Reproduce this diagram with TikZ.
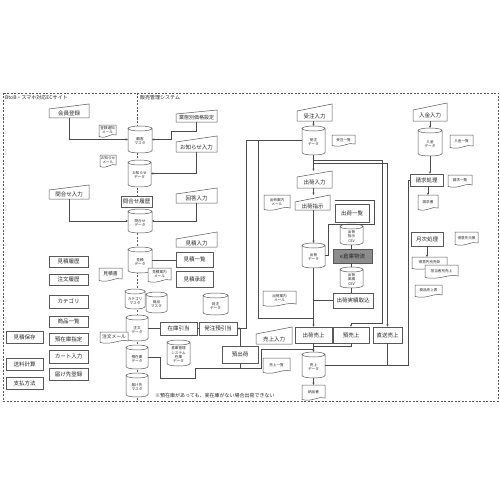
\documentclass[tikz,border=0pt]{standalone}
\usepackage{fontspec}
\setmainfont{Noto Sans CJK JP}
\usetikzlibrary{arrows.meta}
\tikzset{
  shp/.style={draw=black!65, line width=0.5pt},
  ln/.style={draw=black!70, line width=0.5pt},
  arr/.style={ln, -{Stealth[length=2.4pt,width=2.2pt]}},
  frame/.style={draw=black!65, line width=0.5pt, dash pattern=on 2pt off 1.5pt},
  bt/.style={font=\fontsize{5.5}{6}\selectfont, inner sep=0pt, align=center, text=black!85},
  st/.style={font=\fontsize{3.6}{4.3}\selectfont, inner sep=0pt, align=center, text=black!85},
  dt/.style={font=\fontsize{4.8}{5.2}\selectfont, inner sep=0pt, align=center, text=black!85},
  ph/.style={inner sep=0pt, outer sep=0pt},
  lbl/.style={font=\fontsize{5}{6}\selectfont, inner sep=0pt, text=black!85},
}
% box: [style] name x1 y1 x2 y2 text
\newcommand\mkBox[7][]{%
  \node[shp, fill=white, bt, minimum width=#5pt-#3pt, minimum height=#6pt-#4pt, #1] (#2) at ({(#3+#5)/2},{(#4+#6)/2}) {#7};}
% cylinder: name x1 y1 x2 y2 text
\newcommand\mkCyl[6]{%
  \path[fill=white] ({#2},{#3+2.5}) -- ({#2},{#5-2.5}) .. controls ({#2},{#5+0.83}) and ({#4},{#5+0.83}) .. ({#4},{#5-2.5}) -- ({#4},{#3+2.5}) -- cycle;
  \draw[shp] ({#2},{#3+2.5}) -- ({#2},{#5-2.5}) .. controls ({#2},{#5+0.83}) and ({#4},{#5+0.83}) .. ({#4},{#5-2.5}) -- ({#4},{#3+2.5});
  \draw[shp, fill=white] ({(#2+#4)/2},{#3+2.5}) ellipse [x radius={(#4-#2)/2}, y radius=2.5];
  \node[ph, minimum width=#4pt-#2pt, minimum height=#5pt-#3pt] (#1) at ({(#2+#4)/2},{(#3+#5)/2}) {};
  \node[st] (#1-t) at ({(#2+#4)/2},{(#3+#5)/2+1.8}) {#6};}
% document: [textstyle] name x1 y1 x2 y2 text
\newcommand\mkDoc[7][st]{%
  \draw[shp, fill=white] ({#3},{#4}) -- ({#5},{#4}) -- ({#5},{#6-2}) .. controls ({#5-(#5-#3)*0.3},{#6-4.5}) and ({#3+(#5-#3)*0.45},{#6+2.5}) .. ({#3},{#6-0.5}) -- cycle;
  \node[ph, minimum width=#5pt-#3pt, minimum height=#6pt-#4pt] (#2) at ({(#3+#5)/2},{(#4+#6)/2}) {};
  \node[#1] (#2-t) at ({(#3+#5)/2},{(#4+#6)/2-0.8}) {#7};}
% manual input: [textstyle] name x1 ytopright x2 y2 slant text
\newcommand\mkMI[8][bt]{%
  \draw[shp, fill=white] ({#3},{#4+#7}) -- ({#5},{#4}) -- ({#5},{#6}) -- ({#3},{#6}) -- cycle;
  \node[ph, minimum width=#5pt-#3pt, minimum height=#6pt-#4pt] (#2) at ({(#3+#5)/2},{(#4+#6)/2}) {};
  \node[#1] (#2-t) at ({(#3+#5)/2},{(#4+#7+#6)/2}) {#8};}

\begin{document}
\begin{tikzpicture}[x=1pt,y=-1pt]
\fill[white] (0,0) rectangle (500,500);
\useasboundingbox (0,0) rectangle (500,500);
\draw[frame] (3,93) rectangle (498,401);
\draw[frame] (137,93) -- (137,401);
\node[lbl, anchor=west] (lblA) at (5,98) {BtoB・スマホ対応ECサイト};
\node[lbl, anchor=west] (lblB) at (140,98) {販売管理システム};

% ---- EC site column
\mkMI{kaiin}{49}{104}{89}{118}{5}{会員登録}
\mkMI{toiin}{49}{185}{89}{199}{5}{問合せ入力}
\mkBox{mitrir}{49}{256}{88}{267}{見積履歴}
\mkBox{churir}{49}{274}{88}{285}{注文履歴}
\mkBox{categ}{49}{295}{88}{308}{カテゴリ}
\mkBox{shoichi}{49}{316}{88}{327}{商品一覧}
\mkBox{azushitei}{49}{333}{88}{345}{預在庫指定}
\mkBox{cart}{49}{350}{88}{363}{カート入力}
\mkBox{todoke}{49}{368}{88}{380}{届け先登録}
\mkBox{mithozon}{6}{331}{43}{343}{見積保存}
\mkBox{soryo}{6}{358}{43}{370}{送料計算}
\mkBox{shiharai}{6}{377}{43}{389}{支払方法}

% ---- central column
\mkCyl{kokyaku}{128}{126}{152}{153}{顧客\\マスタ}
\mkDoc{tmail}{99}{125}{116}{137}{登録通知\\メール}
\mkCyl{oshidata}{128}{160}{151}{187}{お知らせ\\データ}
\mkDoc{omail}{100}{155}{116}{167}{お知らせ\\メール}
\mkBox{toirir}{121}{196}{152}{207}{問合せ履歴}
\mkCyl{toidata}{128}{209}{152}{233}{問合せ\\データ}
\mkCyl{mitdata}{128}{247}{152}{273}{見積\\データ}
\mkDoc[dt]{mitsho}{99}{268}{122}{281}{見積書}
\mkDoc{mitmail}{148}{268}{171}{282}{見積案内\\メール}
\mkCyl{catm}{125}{289}{145}{309}{カテゴリ\\マスタ}
\mkCyl{shom}{146}{292}{167}{313}{商品\\マスタ}
\mkCyl{chudata}{126}{315}{148}{341}{注文\\データ}
\mkDoc[dt]{chumail}{100}{332}{128}{343}{注文メール}
\mkCyl{azudata}{126}{345}{148}{369}{預在庫\\データ}
\mkCyl{todm}{126}{373}{148}{397}{届け先\\マスタ}

\mkMI[bt,font=\fontsize{5}{6}\selectfont]{gyotai}{176}{110}{217}{122}{4}{業態別価格設定}
\mkMI{oshiin}{176}{136}{217}{152}{6}{お知らせ入力}
\mkMI{kaito}{176}{188}{217}{203}{6}{回答入力}
\mkMI{mitin}{176}{232}{217}{247}{7}{見積入力}
\mkBox{mitichi}{176}{252}{213}{267}{見積一覧}
\mkBox{mitshonin}{176}{271}{213}{287}{見積承認}
\mkCyl{hatdata}{203}{293}{228}{315}{発注\\データ}
\mkBox{zaiko}{160}{322}{197}{335}{在庫引当}
\mkBox{hatchuhiki}{199}{322}{237}{335}{発注預引当}
\mkCyl{soko}{167}{340}{190}{366}{倉庫管理\\システム\\在庫\\データ}
\mkBox{azushukka}{222}{346}{258}{363}{預出荷}
\node[lbl, anchor=west] (note) at (155,396) {※預在庫があっても、実在庫がない場合出荷できない};

% ---- shipping / sales column
\mkMI{juin}{297}{104}{332}{121}{7}{受注入力}
\mkCyl{judata}{302}{126}{325}{155}{受注\\データ}
\mkDoc{juichi}{332}{135}{355}{146}{受注一覧}
\mkMI{shin}{297}{171}{332}{188}{6}{出荷入力}
\mkMI{shshiji}{295}{195}{330}{210}{7}{出荷指示}
\mkDoc{amail1}{264}{195}{290}{210}{出荷案内\\メール}
\mkBox{shichi}{335}{204}{369}{222}{出荷一覧}
\mkCyl{shcsv}{340}{224}{363}{245}{出荷\\指示\\CSV}
\mkBox[fill=black!45, text=black!85]{esoko}{333}{249}{372}{263}{e倉庫物流}
\mkCyl{jicsv}{340}{267}{363}{288}{出荷\\実績\\CSV}
\mkBox{jitori}{333}{293}{373}{308}{出荷実績取込}
\mkCyl{shdata}{302}{243}{325}{268}{出荷\\データ}
\mkDoc{amail2}{263}{291}{296}{306}{出荷案内\\メール}
\mkMI{urin}{256}{327}{292}{344}{7}{売上入力}
\mkDoc{urichi}{263}{358}{290}{373}{売上一覧}
\mkBox{shuri}{295}{327}{332}{343}{出荷売上}
\mkBox{azuri}{333}{327}{369}{343}{預売上}
\mkBox{choku}{373}{327}{402}{343}{直送売上}
\mkCyl{uridata}{302}{352}{325}{378}{売上\\データ}
\mkDoc{nohin}{302}{385}{325}{400}{納品書}

% ---- billing column
\mkMI{nyuin}{413}{103}{447}{121}{7}{入金入力}
\mkCyl{nyudata}{418}{128}{442}{156}{入金\\データ}
\mkDoc{nyuichi}{450}{135}{473}{148}{入金一覧}
\mkBox{seikyu}{410}{174}{443}{186}{請求処理}
\mkDoc{seiichi}{448}{175}{472}{187}{請求一覧}
\mkDoc{seisho}{418}{195}{438}{210}{請求書}
\mkBox{getsuji}{411}{232}{443}{246}{月次処理}
\mkDoc{moto}{455}{232}{478}{245}{得意先元帳}
\mkDoc{rep1}{412}{257}{447}{269}{得意先別売掛}
\mkDoc{rep2}{425}{265}{458}{278}{担当者別売上}
\mkDoc{rep3}{415}{285}{442}{297}{商品売上表}

% ---- connectors
\coordinate (g1) at (171,131);
\draw[arr] (kaiin.south) |- (kokyaku.west);
\draw[arr] (gyotai.south) |- (g1) |- (kokyaku.east);
\draw[arr] (oshiin.south) |- (oshidata.east);
\draw[arr] (toiin.south) |- (toidata.west);
\draw[arr] (kaito.south) |- (toidata.east);
\draw[ln] (mitdata.east) -- (mitdata.east -| mitichi.west);
\draw[ln] (chudata.east) -- (chudata.east -| zaiko.west);
\draw[ln] (zaiko.east) -- (hatchuhiki.west);

\coordinate (c246) at (246,328.5);
\coordinate (c258) at (258,318);
\coordinate (c258t) at (258,140.5);
\draw[arr] (judata.west) -| (c246) -- (hatchuhiki.east);
\draw[ln] (azushukka.north) -- (azushukka.north |- hatchuhiki.east);
\draw[ln] (c258t) -- (c258) -- (c258 -| judata.south);

\draw[arr] (juin.south -| judata.north) -- (judata.north);
\draw[arr] (judata.south) -- (judata.south |- shin.north);
\draw[arr] (judata.south |- shin.south) -- (judata.south |- shshiji.north);
\draw[arr] (judata.south |- shshiji.south) -- (shdata.north);
\draw[arr] (shdata.south) -- (shdata.south |- shuri.north);
\draw[ln] (jitori.west) -- (jitori.west -| shdata.south);
\draw[ln] (shdata.east) -| (328,224) -- (374,224) |- (335,200);
\draw[ln] (shcsv.south) -- (shcsv.south |- esoko.north);
\draw[ln] (shcsv.south |- esoko.south) -- (jicsv.north);
\draw[ln] (jicsv.south) -- (jicsv.south |- jitori.north);

\coordinate (b160) at (313.5,160);
\coordinate (b163) at (313.5,163);
\draw[arr] (b160) -| (382,323) -| (azuri.north);
\draw[arr] (b163) -| (choku.north);
\draw[ln] (choku.south) -- (choku.south |- uridata.east);
\draw[ln] (seikyu.west) -- ++(-2,0) |- (uridata.east);
\draw[arr] (shuri.south) -- (uridata.north);
\draw[ln] (azuri.south) |- (313.5,346);
\draw[ln] (azudata.east) -| (160,378) -| (195,368) -| (261,349) -- (313.5,349);
\draw[ln] (azushukka.south) -- ++(0,5);
\draw[arr] (uridata.south) -- (nohin.north);

\draw[arr] (nyuin.south -| nyudata.north) -- (nyudata.north);
\draw[arr] (nyudata.south) -- (nyudata.south |- seikyu.north);
\draw[arr] (seisho.north |- seikyu.south) -- (seisho.north);
\draw[arr] (getsuji.south) -- (getsuji.south |- rep1.north);
\end{tikzpicture}
\end{document}
